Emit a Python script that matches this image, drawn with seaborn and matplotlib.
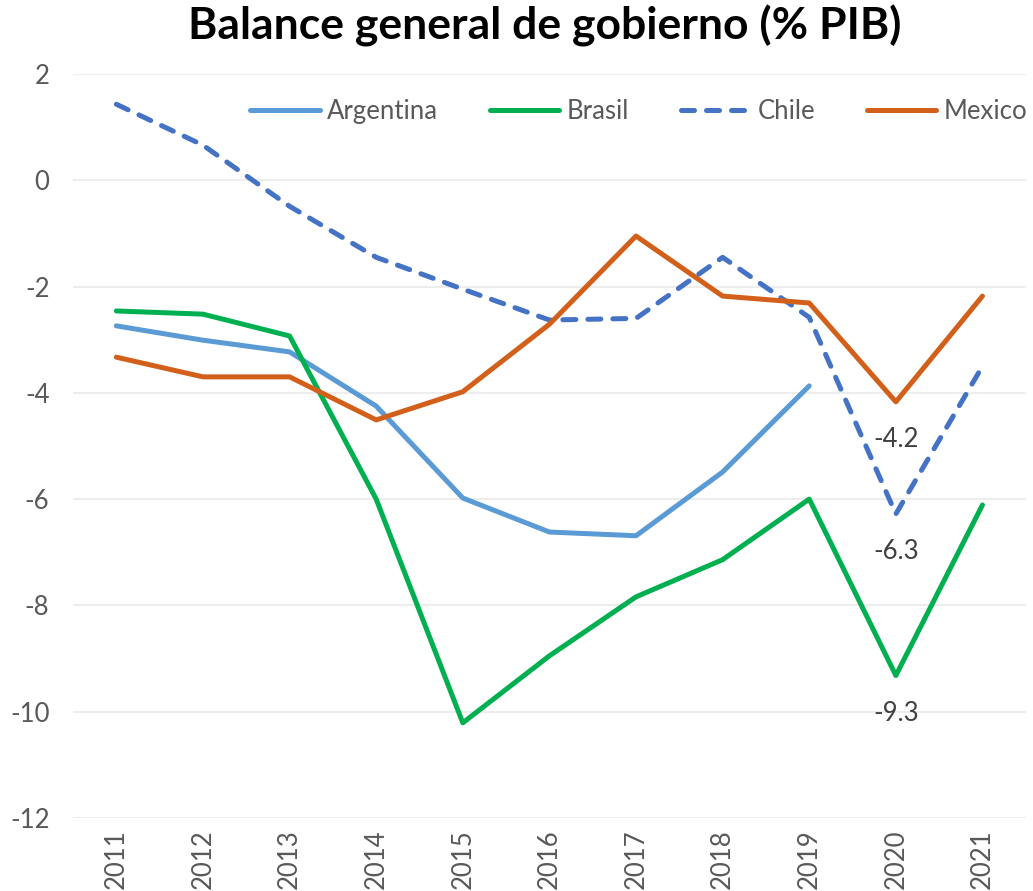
import pandas as pd
import matplotlib.pyplot as plt
import seaborn as sns

years = list(range(2011, 2022))
argentina = [-2.74, -3.01, -3.23, -4.25, -5.98, -6.62, -6.69, -5.49, -3.87, None, None]
brasil = [-2.46, -2.52, -2.93, -6.00, -10.21, -8.95, -7.84, -7.14, -6.00, -9.32, -6.11]
chile = [1.43, 0.66, -0.49, -1.45, -2.05, -2.63, -2.60, -1.45, -2.58, -6.28, -3.50]
mexico = [-3.33, -3.70, -3.70, -4.51, -3.98, -2.71, -1.05, -2.18, -2.31, -4.17, -2.18]
series_names = ['Argentina', 'Brasil', 'Chile', 'Mexico']
labels_2020 = {'Mexico': '-4.2', 'Chile': '-6.3', 'Brasil': '-9.3'}


def main():
    wide = pd.DataFrame({'year': years, 'Argentina': argentina, 'Brasil': brasil,
                         'Chile': chile, 'Mexico': mexico})
    df = wide.melt(id_vars='year', var_name='pais', value_name='valor').dropna()

    sns.set_theme(style="white")
    plt.rcParams['font.family'] = ['Lato', 'DejaVu Sans']
    plt.rcParams['axes.unicode_minus'] = False

    fig = plt.figure(figsize=(10.33, 8.91), dpi=100)
    ax = fig.add_axes([0.0707, 0.082, 0.9223, 0.835])

    ax = sns.lineplot(
        data=df, x='year', y='valor', hue='pais', style='pais',
        hue_order=series_names, style_order=series_names,
        palette={'Argentina': '#5B9BD5', 'Brasil': '#00B050',
                 'Chile': '#4472C4', 'Mexico': '#D2601A'},
        dashes={'Argentina': '', 'Brasil': '', 'Chile': (2.6, 2.4), 'Mexico': ''},
        linewidth=3.6, ax=ax
    )
    for line in ax.lines:
        line.set_dash_capstyle('round')
        line.set_solid_capstyle('round')

    for name, txt in labels_2020.items():
        val = wide.loc[wide['year'] == 2020, name].iloc[0]
        ax.annotate(txt, xy=(2020, val), xytext=(0, -27), textcoords='offset points',
                    ha='center', va='center', fontsize=18.5, color='#404040')

    ax.set_xlim(2010.5, 2021.5)
    ax.set_ylim(-12, 2)
    ax.set_xticks(years)
    ax.set_xticklabels([str(y) for y in years], rotation=90)
    ax.set_yticks(range(-12, 3, 2))
    ax.tick_params(axis='both', labelsize=18.5, labelcolor='#595959', length=0)
    ax.tick_params(axis='y', pad=17)
    ax.tick_params(axis='x', pad=8)
    ax.yaxis.grid(True, color='#EDEDED', linewidth=1.5)
    ax.xaxis.grid(False)
    ax.set_xlabel('')
    ax.set_ylabel('')
    sns.despine(left=True, bottom=True)

    leg = ax.legend(loc='center right', bbox_to_anchor=(1.026, 0.95), ncol=4,
                    frameon=False, fontsize=18.5, handlelength=2.7,
                    handletextpad=0.3, columnspacing=2.0)
    for t in leg.get_texts():
        t.set_color('#595959')
    for h in leg.get_lines():
        h.set_linewidth(3.6)
        h.set_dash_capstyle('round')
        h.set_solid_capstyle('round')

    fig.suptitle('Balance general de gobierno (% PIB)', fontsize=32,
                 fontweight='bold', x=0.527, y=0.995, va='top', color='black')

    fig.savefig('out.png', dpi=100)


if __name__ == "__main__":
    main()
